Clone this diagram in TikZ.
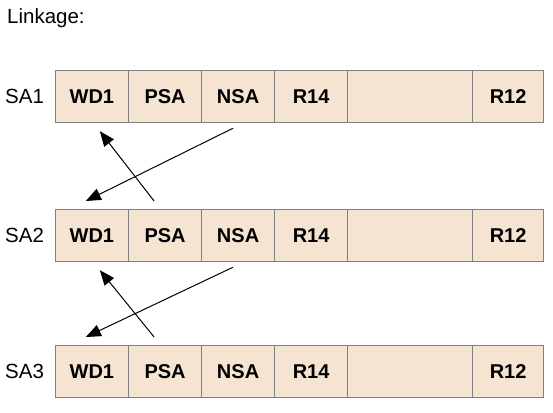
\documentclass[tikz,border=0pt]{standalone}
\usepackage{fontspec}
\setmainfont{Liberation Sans}
\usepackage{tikz}
\usetikzlibrary{arrows.meta}

\definecolor{cellfill}{RGB}{245,228,210}
\definecolor{cellline}{RGB}{128,128,128}

\tikzset{
  cell/.style={draw=cellline, line width=1.2pt, fill=cellfill, anchor=north west,
    minimum height=52pt, inner sep=0pt, font=\fontsize{20}{24}\selectfont\bfseries},
  rowlabel/.style={anchor=west, inner sep=0pt, font=\fontsize{20.5}{24}\selectfont},
  link/.style={line width=1pt, -{Triangle[length=15pt,width=12pt]}}
}

\begin{document}
\begin{tikzpicture}[x=1pt,y=-1pt]
        \useasboundingbox (0,0) rectangle (553,412);
        \node[rowlabel, anchor=base west] (title) at (7,24) {Linkage:};

        % three save areas
        \foreach \r/\y in {1/70, 2/209, 3/345}{
          \node[rowlabel] (sa\r) at (5,\y+26) {SA\r};
          \node[cell, minimum width=73.5pt] (r\r wd) at (54.5,\y) {WD1};
          \node[cell, minimum width=73pt] (r\r psa) at (128,\y) {PSA};
          \node[cell, minimum width=73pt] (r\r nsa) at (201,\y) {NSA};
          \node[cell, minimum width=73pt] (r\r rf) at (274,\y) {R14};
          \node[cell, minimum width=125pt] (r\r gap) at (347,\y) {};
          \node[cell, minimum width=71pt] (r\r rt) at (472,\y) {R12};
        }

        % back and forward chain pointers
        \foreach \u/\l in {1/2, 2/3}{
          \draw[link] ([xshift=-11pt,yshift=8pt]r\l psa.north)
            -- ([xshift=8pt,yshift=-8pt]r\u wd.south);
          \draw[link] ([xshift=-5pt,yshift=-5pt]r\u nsa.south)
            -- ([xshift=-6pt,yshift=8pt]r\l wd.north);
        }
\end{tikzpicture}
\end{document}
